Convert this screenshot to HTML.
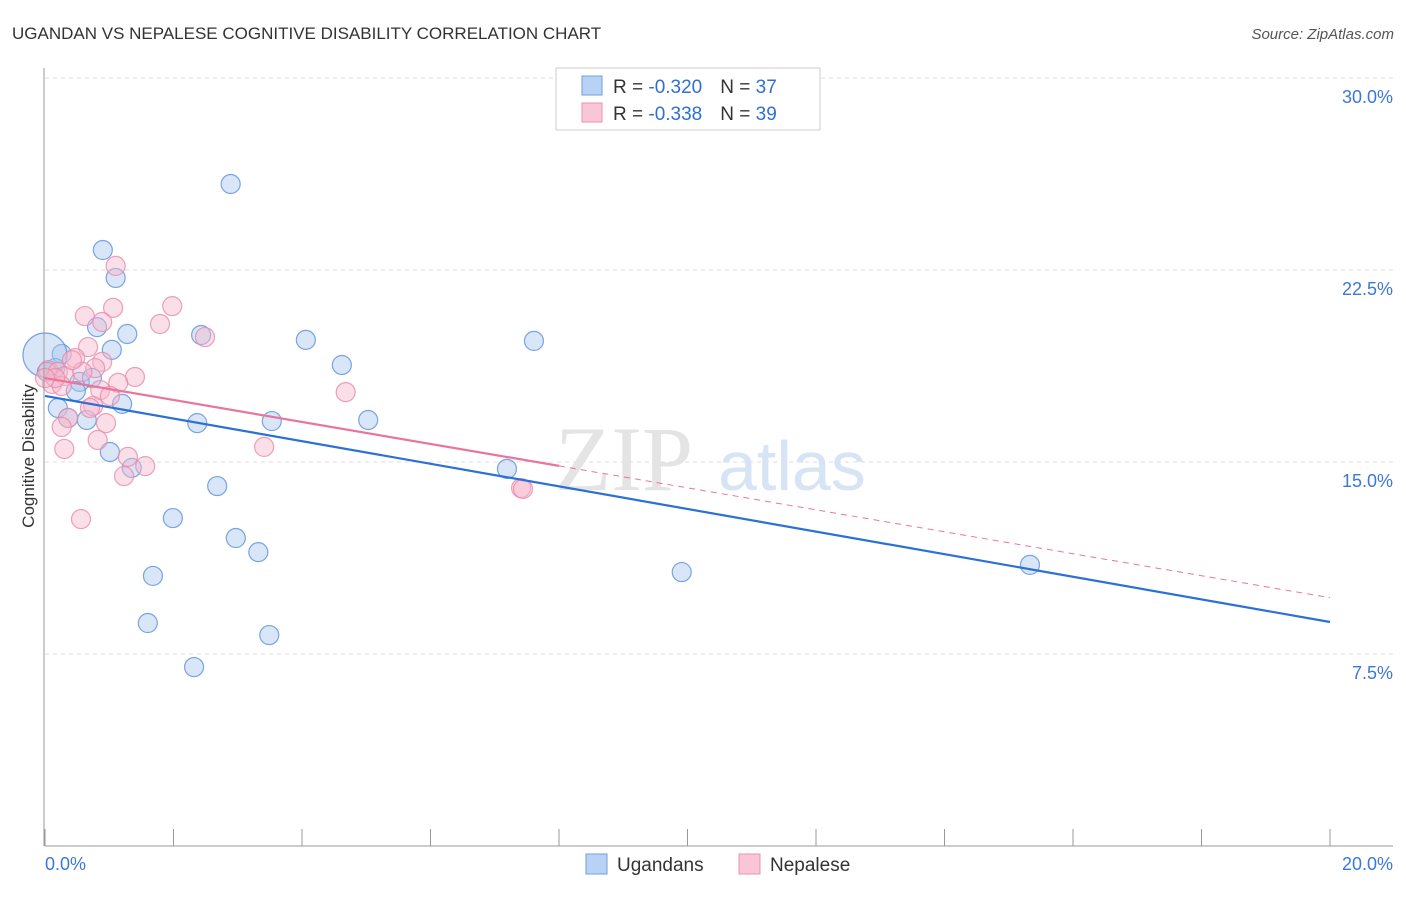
<!DOCTYPE html>
<html><head><meta charset="utf-8"><style>
body{margin:0;background:#fff;font-family:"Liberation Sans",sans-serif}
</style></head><body>
<svg width="1406" height="892" xmlns="http://www.w3.org/2000/svg" font-family="Liberation Sans, sans-serif">
<text x="12" y="39" font-size="17" fill="#333">UGANDAN VS NEPALESE COGNITIVE DISABILITY CORRELATION CHART</text>
<text x="1394" y="39" font-size="15" fill="#555" font-style="italic" text-anchor="end">Source: ZipAtlas.com</text>
<g id="grid"></g>
<g>
<text x="555" y="490" font-size="92" font-family="Liberation Serif, serif" fill="#e4e4e4">ZIP</text>
<text x="718" y="490" font-size="70" fill="#d6e4f5">atlas</text>
</g>
<g id="marks"></g>
<g id="axes"></g>
<text transform="translate(34,456) rotate(-90)" font-size="17" fill="#333" text-anchor="middle">Cognitive Disability</text>
<g>
<rect x="556" y="68" width="264" height="62" fill="#fff" stroke="#ccc"/>
<rect x="582" y="76" width="20" height="19" fill="#b8d2f5" stroke="#6f9fe0"/>
<rect x="582" y="103" width="20" height="19" fill="#f8c6d6" stroke="#e893b0"/>
<text x="613" y="93" font-size="19" fill="#333">R = <tspan fill="#2f6fd1">-0.320</tspan><tspan dx="18">N = </tspan><tspan fill="#2f6fd1">37</tspan></text>
<text x="613" y="120" font-size="19" fill="#333">R = <tspan fill="#2f6fd1">-0.338</tspan><tspan dx="18">N = </tspan><tspan fill="#2f6fd1">39</tspan></text>
</g>
<g>
<rect x="586" y="854" width="21" height="20" fill="#b8d2f5" stroke="#6f9fe0"/>
<text x="617" y="871" font-size="19" fill="#333">Ugandans</text>
<rect x="739" y="854" width="21" height="20" fill="#f8c6d6" stroke="#e893b0"/>
<text x="770" y="871" font-size="19" fill="#333">Nepalese</text>
</g>
</svg>
<script>
const blueX=[2.89,0.90,1.10,0.81,1.28,2.43,1.04,0.26,4.06,4.62,7.61,0.16,0.54,0.73,0.48,1.20,0.20,0.36,0.65,2.37,3.53,5.03,1.01,1.35,7.19,2.68,1.99,2.97,3.32,1.68,9.91,15.33,1.60,3.49,2.32,0.00,0.03];
const blueY=[25.86,23.28,22.19,20.27,20.0,19.96,19.38,19.22,19.77,18.79,19.73,18.67,18.13,18.28,17.77,17.27,17.11,16.72,16.64,16.52,16.60,16.64,15.39,14.77,14.73,14.06,12.81,12.03,11.48,10.55,10.70,10.98,8.71,8.24,6.99,19.18,18.52];
const pinkX=[1.10,1.98,1.06,0.62,1.79,0.89,2.49,0.67,0.47,0.89,0.78,0.05,0.20,0.31,0.58,1.40,1.14,0.11,0.26,0.86,4.68,0.75,0.70,0.36,0.95,0.26,0.82,3.41,0.30,1.29,1.56,1.23,7.41,7.44,0.56,0.42,0.16,1.01,0.00];
const pinkY=[22.66,21.09,21.02,20.70,20.39,20.47,19.88,19.49,19.06,18.91,18.67,18.59,18.52,18.36,18.52,18.32,18.09,18.05,17.97,17.81,17.73,17.19,17.11,16.72,16.52,16.37,15.86,15.59,15.51,15.20,14.84,14.45,13.98,13.95,12.77,18.98,18.28,17.58,18.28];
const yTicks=[7.5,15,22.5,30];
const yTickLabels=["7.5%","15.0%","22.5%","30.0%"];
const xTicks=[0,2,4,6,8,10,12,14,16,18,20];
const blueTrend=[17.58,8.75];
const pinkTrend=[18.28,9.70];
const pinkSolidEnd=8.0;
const NS="http://www.w3.org/2000/svg";
const sx=v=>45+v/20*1285, sy=v=>846-v/7.5*192;
function mk(p,t,a){const e=document.createElementNS(NS,t);for(const k in a)e.setAttribute(k,a[k]);p.appendChild(e);return e;}
const grid=document.getElementById('grid'),marks=document.getElementById('marks'),axes=document.getElementById('axes');
yTicks.forEach((t,i)=>{
 const l=mk(grid,'line',{x1:45,x2:1393,y1:sy(t),y2:sy(t),stroke:'#ddd','stroke-dasharray':'4,4'});
 
 
 const tx=mk(axes,'text',{x:1393,y:sy(t)+25,'font-size':18,fill:'#3b78d8','text-anchor':'end'});
 tx.textContent=yTickLabels[i];
 
 
});
const xa=mk(axes,'line',{x1:45,x2:1393,y1:846,y2:846,stroke:'#999'});


const ya=mk(axes,'line',{x1:44,x2:44,y1:68,y2:846,stroke:'#999'});


xTicks.forEach(t=>{
 const l=mk(axes,'line',{x1:sx(t),x2:sx(t),y1:829,y2:846,stroke:'#999'});
 
 
});
const xl0=mk(axes,'text',{x:45,y:870,'font-size':18,fill:'#3b78d8'});xl0.textContent='0.0%';


const xl1=mk(axes,'text',{x:1393,y:870,'font-size':18,fill:'#3b78d8','text-anchor':'end'});xl1.textContent='20.0%';


function pts(X,Y,fill,stroke,name){
 X.forEach((x,i)=>{
  const big=(x===0&&name==='ugandan-point'&&i===35);
  const c=mk(marks,'circle',{cx:sx(x),cy:sy(Y[i]),r:big?22:9.5,fill:fill,'fill-opacity':0.45,stroke:stroke,'stroke-width':1.2,'stroke-opacity':0.8});
  
  
 });
}
pts(blueX,blueY,'#a9c8f0','#5b8fdc','ugandan-point');
pts(pinkX,pinkY,'#f6b9cc','#e88aa9','nepalese-point');
const pinkAt=x=>pinkTrend[0]+(pinkTrend[1]-pinkTrend[0])*x/20;
const pd=mk(marks,'line',{x1:sx(pinkSolidEnd),y1:sy(pinkAt(pinkSolidEnd)),x2:sx(20),y2:sy(pinkTrend[1]),stroke:'#e8769c','stroke-width':1,'stroke-dasharray':'6,5'});


const bt=mk(marks,'line',{x1:sx(0),y1:sy(blueTrend[0]),x2:sx(20),y2:sy(blueTrend[1]),stroke:'#2a70d6','stroke-width':2.2});


const pt=mk(marks,'line',{x1:sx(0),y1:sy(pinkTrend[0]),x2:sx(pinkSolidEnd),y2:sy(pinkAt(pinkSolidEnd)),stroke:'#e8769c','stroke-width':2.2});


</script>
</body></html>
